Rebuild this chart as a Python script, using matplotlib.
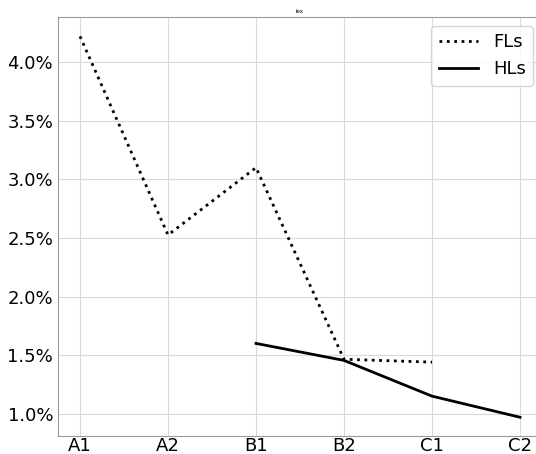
import matplotlib
matplotlib.use("Agg")
import matplotlib.pyplot as plt
from matplotlib.ticker import PercentFormatter

# data
levels = ["A1", "A2", "B1", "B2", "C1", "C2"]
fls = [4.22, 2.525, 3.10, 1.465, 1.44, None]
hls = [None, None, 1.60, 1.455, 1.15, 0.97]

def pairs(vals):
    xs = [i for i, v in enumerate(vals) if v is not None]
    ys = [v for v in vals if v is not None]
    return xs, ys

fig = plt.figure(figsize=(5.36, 4.54), dpi=100)
# the axes run a little past the right edge of the figure, as in the reference
ax = fig.add_axes([58 / 536, 18 / 454, 484 / 536, 419 / 454])

x, y = pairs(fls)
ax.plot(x, y, linestyle=":", color="black", linewidth=2, label="FLs")
x, y = pairs(hls)
ax.plot(x, y, linestyle="-", color="black", linewidth=2, label="HLs")

ax.set_xticks(range(len(levels)))
ax.set_xticklabels(levels)
ax.set_xlim(-0.25, 5.25)
ax.set_ylim(0.81, 4.385)
ax.set_yticks([1.0, 1.5, 2.0, 2.5, 3.0, 3.5, 4.0])
ax.yaxis.set_major_formatter(PercentFormatter(decimals=1))
ax.tick_params(axis="y", labelsize=13, length=0, pad=3.5)
ax.tick_params(axis="x", labelsize=13, length=0, pad=1)
ax.grid(True, color="#d9d9d9", linewidth=0.8)
for s in ax.spines.values():
    s.set_color("#999999")
ax.set_title("lex", fontsize=4, pad=3)
ax.legend(loc="upper right", fontsize=13, handlelength=2.2)

fig.savefig("out.png", dpi=100)
